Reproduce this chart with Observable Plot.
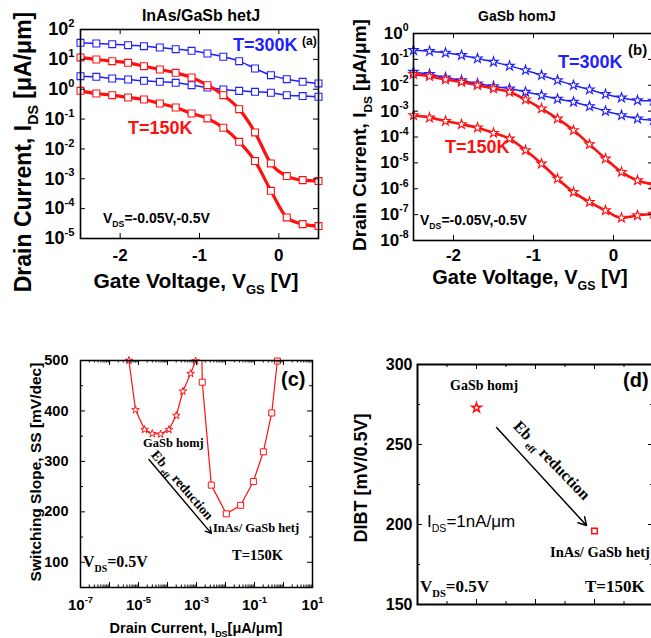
<!DOCTYPE html>
<html><head><meta charset="utf-8">
<script src="https://cdn.jsdelivr.net/npm/d3@7"></script>
<script src="https://cdn.jsdelivr.net/npm/@observablehq/plot@0.6"></script>
<style>
body{margin:0;background:#fff;overflow:hidden}
#wrap{position:relative;width:651px;height:638px;overflow:hidden;background:#fff}
#wrap svg{position:absolute;overflow:hidden}
</style></head><body><div id="wrap"></div>
<script>
const SANS = "'Liberation Sans', Arial, Helvetica, sans-serif";
const SERIF = "'Liberation Serif', 'Times New Roman', serif";
const BLUE = "#1f1fff", RED = "#ff1010";

// ---------- data ----------
// gate voltage (V) for panels (a) and (b)
const vgs = [-2.5,-2.3,-2.1,-1.9,-1.7,-1.5,-1.3,-1.1,-0.9,-0.7,-0.5,-0.3,-0.1,0.1,0.3,0.5];
// (a) InAs/GaSb hetJ drain current [uA/um]
const hetJ_300K_Vd050 = [35.8,34.0,32.3,29.9,27.7,24.9,22.0,19.3,15.7,12.2,8.7,4.94,2.96,2.17,1.77,1.56];
const hetJ_300K_Vd005 = [2.74,2.60,2.29,2.12,1.91,1.77,1.64,1.37,1.14,0.98,0.88,0.82,0.76,0.63,0.59,0.56];
const hetJ_150K_Vd050 = [11.6,9.9,8.7,7.66,5.92,4.58,3.54,2.47,1.37,0.632,0.215,0.0356,0.00326,0.00123,0.000902,0.000836];
const hetJ_150K_Vd005 = [0.883,0.719,0.632,0.528,0.453,0.333,0.244,0.154,0.105,0.0511,0.0173,0.00391,0.000396,5.07e-5,3.03e-5,2.60e-5];
// (b) GaSb homJ drain current [uA/um]
const homJ_300K_Vd050 = [0.226,0.207,0.179,0.145,0.108,0.080,0.056,0.038,0.0244,0.0156,0.0100,0.0068,0.0045,0.0033,0.0026,0.0025];
const homJ_300K_Vd005 = [0.0328,0.0267,0.0198,0.0156,0.0116,0.00914,0.00743,0.00552,0.0041,0.00296,0.00226,0.00154,0.00101,0.00069,0.00051,0.00044];
const homJ_150K_Vd050 = [0.0267,0.0223,0.0166,0.0135,0.0100,0.00743,0.00552,0.00279,0.00125,0.00051,0.000181,5.2e-5,1.45e-5,4.4e-6,2.1e-6,1.47e-6];
const homJ_150K_Vd005 = [6.9e-4,5.6e-4,4.16e-4,3.09e-4,2.30e-4,1.43e-4,8.6e-5,3.05e-5,9.3e-6,2.44e-6,7.4e-7,3.05e-7,1.45e-7,7.5e-8,9.3e-8,1.08e-7];
// (c) switching slope vs drain current
const ssHom_I  = [4.67e-6,7.9e-6,1.62e-5,2.98e-5,5.78e-5,1.12e-4,2.01e-4,3.41e-4,6.26e-4,9.3e-4];
const ssHom_SS = [500,402,363,355,354,363,391,439,474,499];
const ssHet_I  = [1.5e-3,1.58e-3,3.24e-3,0.0107,0.0333,0.0914,0.202,0.393,0.615];
const ssHet_SS = [540,457,253,196,213,260,319,396,499];
// (d) DIBT
const dibtX = [2, 6];
const dibtVal = [273, 196];
const dibtDevice = ["GaSb homj", "InAs/ GaSb hetj"];
// annotation arrows
const arrowC = [{x1: 2.29e-5, y1: 303.6, x2: 3.24e-3, y2: 157.3}];
const arrowD = [{x1: 2.68, y1: 260.6, x2: 5.73, y2: 199.4}];
// tick values
const ticksA_y = [1e-5,1e-4,1e-3,1e-2,1e-1,1,10,100];
const ticksB_y = [1e-8,1e-7,1e-6,1e-5,1e-4,1e-3,1e-2,1e-1,1];
const ticksV = [-2,-1,0];
const ticksC_xMajor = [1e-7,1e-6,1e-5,1e-4,1e-3,1e-2,1e-1,1,10];
const ticksC_xLabel = [1e-7,1e-5,1e-3,1e-1,10];
const ticksC_y = [100,200,300,400,500];
const ticksC_yMinor = [150,250,350,450];
const ticksD_y = [150,200,250,300];
const ticksD_yMinor = [175,225,275];
const ticksD_x = [2,4,6];
const ticksD_xMinor = [1,3,5,7];

// ---------- helpers ----------
const wrap = document.getElementById("wrap");
function place(svg, left, top){ svg.style.left = left+"px"; svg.style.top = top+"px"; wrap.appendChild(svg); return svg; }
function tX(vals, len, fh){ return [
  Plot.tickX(vals, {x: d=>d, insetTop: fh-len, stroke:"black", strokeWidth:1}),
  Plot.tickX(vals, {x: d=>d, insetBottom: fh-len, stroke:"black", strokeWidth:1})]; }
function tY(vals, len, fw){ return [
  Plot.tickY(vals, {y: d=>d, insetRight: fw-len, stroke:"black", strokeWidth:1}),
  Plot.tickY(vals, {y: d=>d, insetLeft: fw-len, stroke:"black", strokeWidth:1})]; }
const expFmt = d => "10^" + Math.round(Math.log10(d));
const dashFmt = d => d < 0 ? "-" + Math.abs(d) : String(d);
function supTicks(svg, size){
  d3.select(svg).selectAll("text").each(function(){
    const m = /^10\^(-?\d+)$/.exec(this.textContent);
    if (!m) return;
    const s = d3.select(this); s.text("");
    s.append("tspan").text("10");
    s.append("tspan").attr("dy", -size*0.45).attr("font-size", size*0.62).text(m[1]);
  });
}
function rich(svg, x, y, parts, o={}){
  const size = o.size || 14;
  const t = d3.select(svg).append("text").attr("x", x).attr("y", y)
    .attr("font-family", o.family || SANS).attr("font-weight", o.weight || "bold")
    .attr("font-size", size).attr("fill", o.fill || "black").attr("text-anchor", o.anchor || "start");
  if (o.rotate) t.attr("transform", `rotate(${o.rotate},${x},${y})`);
  let cur = 0;
  for (const p of parts){
    let s, shift = 0, fs = size;
    if (typeof p === "string") s = p;
    else { s = p[0]; fs = size*0.62; shift = p[1] === "sub" ? size*0.3 : -size*0.42; }
    t.append("tspan").attr("dy", shift-cur).attr("font-size", fs).text(s);
    cur = shift;
  }
  return t;
}
const baseStyle = {fontFamily: SANS, fontWeight: "bold", color: "black", background: "transparent", overflow: "hidden"};
function ivSeries(vals, color, sw, symbol, r){
  return [
    Plot.line(vals, {x: (d,i)=>vgs[i], y: d=>d, stroke: color, strokeWidth: sw, curve: "monotone-x"}),
    Plot.dot(vals, {x: (d,i)=>vgs[i], y: d=>d, symbol, r, stroke: color, fill: "white", strokeWidth: 1.1})
  ];
}

// ---------- panel (a) ----------
{
  const W=330,H=300,mL=80,mR=12,mT=29,mB=62, fw=W-mL-mR, fh=H-mT-mB;
  const svg = Plot.plot({
    width:W, height:H, marginLeft:mL, marginRight:mR, marginTop:mT, marginBottom:mB,
    x:{domain:[-2.5,0.5]}, y:{type:"log", domain:[1e-5,1e2]},
    style: baseStyle,
    marks:[
      ...ivSeries(hetJ_300K_Vd050, BLUE, 1.5, "square", 3.9),
      ...ivSeries(hetJ_300K_Vd005, BLUE, 1.5, "square", 3.9),
      ...ivSeries(hetJ_150K_Vd050, RED, 3.2, "square", 3.9),
      ...ivSeries(hetJ_150K_Vd005, RED, 3.2, "square", 3.9),
      ...tX(ticksV, 5, fh), ...tY(ticksA_y, 5, fw),
      Plot.frame({stroke:"black", strokeWidth:1.6}),
      Plot.axisX({ticks: ticksV, tickSize:0, tickPadding:10, tickFormat: dashFmt, label:null, fontSize:17}),
      Plot.axisY({ticks: ticksA_y, tickSize:0, tickPadding:6, tickFormat: expFmt, label:null, fontSize:18})
    ]
  });
  place(svg, 0, 0); supTicks(svg, 18);
  rich(svg, 201, 21, ["InAs/GaSb hetJ"], {size:16, anchor:"middle"});
  rich(svg, 233, 51, ["T=300K"], {size:18, fill:BLUE});
  rich(svg, 302, 45, ["(a)"], {size:12});
  rich(svg, 128, 134, ["T=150K"], {size:18, fill:RED});
  rich(svg, 103, 223, ["V", ["DS","sub"], "=-0.05V,-0.5V"], {size:14});
  rich(svg, 196, 288, ["Gate Voltage, V", ["GS","sub"], " [V]"], {size:21, anchor:"middle"});
  rich(svg, 31, 152, ["Drain Current, I", ["DS","sub"], " [μA/μm]"], {size:23, anchor:"middle", rotate:-90});
}

// ---------- panel (b) ----------
{
  const W=330,H=300,mL=83,mR=7,mT=33,mB=60, fw=W-mL-mR, fh=H-mT-mB;
  const svg = Plot.plot({
    width:W, height:H, marginLeft:mL, marginRight:mR, marginTop:mT, marginBottom:mB,
    x:{domain:[-2.5,0.5]}, y:{type:"log", domain:[1e-8,1]},
    style: baseStyle,
    marks:[
      ...ivSeries(homJ_300K_Vd050, BLUE, 1.5, "star", 3),
      ...ivSeries(homJ_300K_Vd005, BLUE, 1.5, "star", 3),
      ...ivSeries(homJ_150K_Vd050, RED, 2.6, "star", 3),
      ...ivSeries(homJ_150K_Vd005, RED, 2.6, "star", 3),
      ...tX(ticksV, 5, fh), ...tY(ticksB_y, 5, fw),
      Plot.frame({stroke:"black", strokeWidth:1.6}),
      Plot.axisX({ticks: ticksV, tickSize:0, tickPadding:8, tickFormat: dashFmt, label:null, fontSize:17}),
      Plot.axisY({ticks: ticksB_y, tickSize:0, tickPadding:5, tickFormat: expFmt, label:null, fontSize:17})
    ]
  });
  place(svg, 330, 0); supTicks(svg, 17);
  rich(svg, 187, 21, ["GaSb homJ"], {size:14, anchor:"middle"});
  rich(svg, 228, 68, ["T=300K"], {size:18, fill:BLUE});
  rich(svg, 298, 55, ["(b)"], {size:15});
  rich(svg, 115, 153, ["T=150K"], {size:18, fill:RED});
  rich(svg, 90, 225, ["V", ["DS","sub"], "=-0.05V,-0.5V"], {size:14});
  rich(svg, 200, 284, ["Gate Voltage, V", ["GS","sub"], " [V]"], {size:20, anchor:"middle"});
  rich(svg, 36, 135, ["Drain Current, I", ["DS","sub"], " [μA/μm]"], {size:19, anchor:"middle", rotate:-90});
}

// ---------- panel (c) ----------
{
  const W=330,H=338,mL=80,mR=18,mT=60,mB=51, fw=W-mL-mR, fh=H-mT-mB;
  const minor = [];
  for (const e of [-7,-6,-5,-4,-3,-2,-1,0]) for (const k of [2,3,4,5,6,7,8,9]) minor.push(k*Math.pow(10,e));
  const hom = ssHom_I.map((x,i)=>({x, y: ssHom_SS[i]}));
  const het = ssHet_I.map((x,i)=>({x, y: ssHet_SS[i]}));
  const svg = Plot.plot({
    width:W, height:H, marginLeft:mL, marginRight:mR, marginTop:mT, marginBottom:mB,
    x:{type:"log", domain:[1e-7,10]}, y:{domain:[50,500]},
    style: baseStyle,
    marks:[
      Plot.line(hom, {x:"x", y:"y", stroke:RED, strokeWidth:1.2, clip:true}),
      Plot.line(het, {x:"x", y:"y", stroke:RED, strokeWidth:1.2, clip:true}),
      Plot.dot(hom, {x:"x", y:"y", symbol:"star", r:2.4, stroke:RED, fill:"white", strokeWidth:1}),
      Plot.dot(het.filter(d=>d.y<=500), {x:"x", y:"y", symbol:"square", r:3.4, stroke:RED, fill:"white", strokeWidth:1}),
      Plot.arrow(arrowC, {x1:"x1", y1:"y1", x2:"x2", y2:"y2", stroke:"black", strokeWidth:1.4, headLength:7}),
      ...tX(ticksC_xMajor, 5, fh), ...tX(minor, 2.5, fh),
      ...tY(ticksC_y, 5, fw), ...tY(ticksC_yMinor, 3, fw),
      Plot.frame({stroke:"black", strokeWidth:1.5}),
      Plot.axisX({ticks: ticksC_xLabel, tickSize:0, tickPadding:12, tickFormat: expFmt, label:null, fontSize:15}),
      Plot.axisY({ticks: ticksC_y, tickSize:0, tickPadding:12, label:null, fontSize:14.5})
    ]
  });
  place(svg, 0, 300); supTicks(svg, 15);
  rich(svg, 41, 172, ["Switching Slope, SS [mV/dec]"], {size:15.5, anchor:"middle", rotate:-90});
  rich(svg, 196, 333, ["Drain Current, I", ["DS","sub"], "[μA/μm]"], {size:14.5, anchor:"middle"});
  rich(svg, 281, 86, ["(c)"], {size:20});
  rich(svg, 143, 147, ["GaSb homj"], {size:12.5, family:SERIF});
  rich(svg, 213, 232, ["InAs/ GaSb hetj"], {size:12.5, family:SERIF});
  rich(svg, 232, 260, ["T=150K"], {size:14.5, family:SERIF});
  rich(svg, 83, 267, ["V", ["DS","sub"], "=0.5V"], {size:16, family:SERIF});
  rich(svg, 179, 188, ["Eb", [" eff","sub"], " reduction"], {size:13.5, family:SERIF, anchor:"middle", rotate:49});
}

// ---------- panel (d) ----------
{
  const W=330,H=338,mL=87,mR=7,mT=64,mB=34, fw=W-mL-mR, fh=H-mT-mB;
  const pts = dibtX.map((x,i)=>({x, y: dibtVal[i], dev: dibtDevice[i]}));
  const svg = Plot.plot({
    width:W, height:H, marginLeft:mL, marginRight:mR, marginTop:mT, marginBottom:mB,
    x:{domain:[0,8], axis:null}, y:{domain:[150,300], axis:null},
    style: baseStyle,
    marks:[
      Plot.dot(pts, {x:"x", y:"y", symbol: d => d.dev.startsWith("GaSb") ? "star" : "square", r: d => d.dev.startsWith("GaSb") ? 5 : 5.6, stroke:RED, fill:"white", strokeWidth:1.5}),
      Plot.arrow(arrowD, {x1:"x1", y1:"y1", x2:"x2", y2:"y2", stroke:"black", strokeWidth:1.5, headLength:9}),
      ...tX(ticksD_x, 5, fh), ...tX(ticksD_xMinor, 3, fh),
      ...tY(ticksD_y, 5, fw), ...tY(ticksD_yMinor, 3, fw),
      Plot.frame({stroke:"black", strokeWidth:2}),
      Plot.axisY({ticks: ticksD_y, tickSize:0, tickPadding:5, label:null, fontSize:16})
    ]
  });
  place(svg, 330, 300);
  rich(svg, 37, 178, ["DIBT [mV/0.5V]"], {size:18, anchor:"middle", rotate:-90});
  rich(svg, 293, 87, ["(d)"], {size:20});
  rich(svg, 120, 90, ["GaSb homj"], {size:14, family:SERIF});
  rich(svg, 97, 227, ["I", ["DS","sub"], "=1nA/μm"], {size:17, weight:"normal"});
  rich(svg, 220, 257, ["InAs/ GaSb hetj"], {size:14.5, family:SERIF});
  rich(svg, 90, 292, ["V", ["DS","sub"], "=0.5V"], {size:17, family:SERIF});
  rich(svg, 255, 292, ["T=150K"], {size:17, family:SERIF});
  rich(svg, 218, 164, ["Eb", [" eff","sub"], " reduction"], {size:16, family:SERIF, anchor:"middle", rotate:46});
}
</script></body></html>
